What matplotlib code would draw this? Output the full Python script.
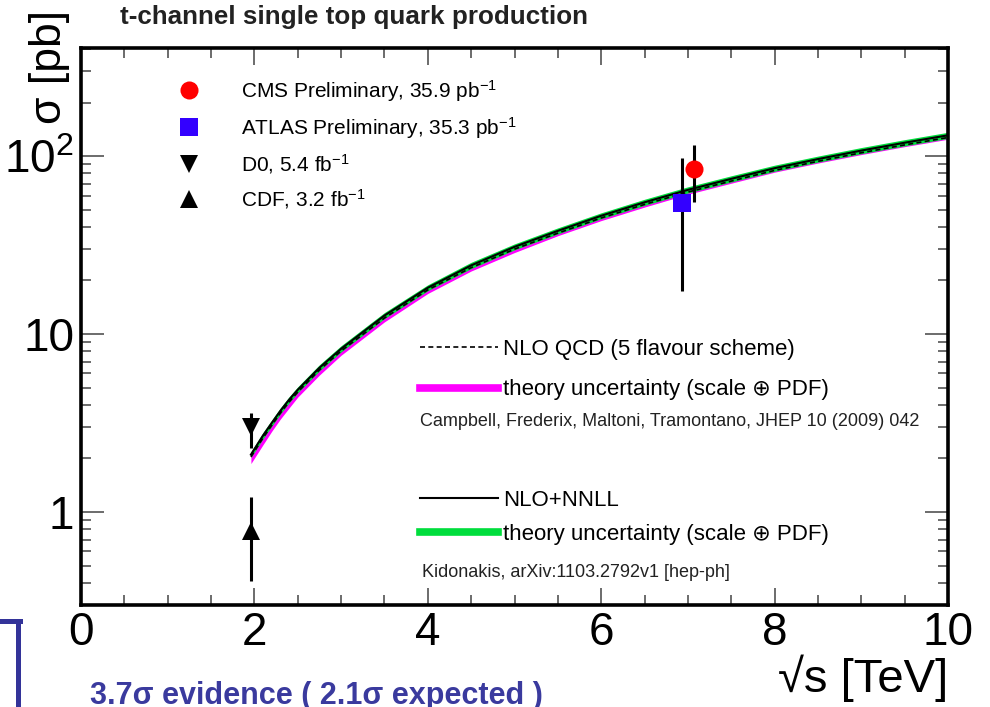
import numpy as np
import matplotlib
matplotlib.use("Agg")
import matplotlib.pyplot as plt
from matplotlib.lines import Line2D

plt.rcParams['font.family'] = ['Liberation Sans', 'DejaVu Sans']
plt.rcParams['mathtext.fontset'] = 'custom'
plt.rcParams['mathtext.rm'] = 'Liberation Sans'
plt.rcParams['mathtext.it'] = 'Liberation Sans:italic'
plt.rcParams['mathtext.bf'] = 'Liberation Sans:bold'

# theory curves, sqrt(s) in TeV, sigma in pb
sqrt_s = [1.96, 2.1, 2.2, 2.3, 2.4, 2.5, 2.75, 3.0, 3.5, 4.0, 4.5, 5.0, 5.5,
          6.0, 6.5, 7.0, 7.5, 8.0, 8.5, 9.0, 9.5, 10.0]
nnll = [2.10, 2.69, 3.16, 3.70, 4.27, 4.86, 6.46, 8.26, 12.7, 18.2, 24.3, 30.9, 38.0,
        46.2, 55.0, 64.6, 74.5, 85.5, 96.2, 107.4, 118.9, 130.9]
nnll_lo = [2.02, 2.58, 3.03, 3.55, 4.10, 4.67, 6.20, 7.93, 12.2, 17.5, 23.3, 29.7, 36.5,
           44.4, 52.8, 62.0, 71.5, 82.1, 92.4, 103.1, 114.1, 125.7]
nnll_hi = [2.18, 2.80, 3.29, 3.85, 4.44, 5.05, 6.72, 8.59, 13.2, 18.9, 25.3, 32.1, 39.5,
           48.0, 57.2, 67.2, 77.5, 88.9, 100.0, 111.7, 123.7, 136.1]
nlo = [2.04, 2.61, 3.07, 3.60, 4.15, 4.72, 6.28, 8.03, 12.3, 17.7, 23.6, 30.0, 36.9,
       44.9, 53.5, 62.8, 72.4, 83.1, 93.5, 104.4, 115.6, 127.2]
nlo_lo = [1.87, 2.39, 2.84, 3.33, 3.84, 4.42, 5.88, 7.60, 11.7, 16.9, 22.6, 28.7, 35.7,
          43.4, 51.7, 61.0, 70.4, 81.2, 91.4, 102.0, 113.0, 124.4]
nlo_hi = [2.10, 2.69, 3.16, 3.70, 4.27, 4.86, 6.46, 8.26, 12.7, 18.2, 24.3, 30.9, 38.0,
          46.2, 55.0, 64.6, 74.5, 85.5, 96.2, 107.4, 118.9, 130.9]

# measurements: x, value, error down, error up
cms = [7.07, 85.0, 30.0, 31.0]
atlas = [6.93, 54.5, 37.0, 43.5]
d0 = [1.96, 3.0, 0.7, 0.6]
cdf = [1.96, 0.78, 0.37, 0.43]

exp_labels = ["CMS Preliminary, 35.9 pb$^{-1}$", "ATLAS Preliminary, 35.3 pb$^{-1}$",
              "D0, 5.4 fb$^{-1}$", "CDF, 3.2 fb$^{-1}$"]

fig = plt.figure(figsize=(9.9, 7.07), dpi=100)
ax = fig.add_axes([0.0818, 0.1443, 0.8758, 0.7878])
ax.set_yscale('log')
ax.set_xlim(0, 10)
ax.set_ylim(0.3, 405)

ax.fill_between(sqrt_s, nlo_lo, nlo_hi, color='#ff00ff', lw=0, zorder=1)
ax.fill_between(sqrt_s, nnll_lo, nnll_hi, color='#00dd3c', lw=0, zorder=2)
ax.plot(sqrt_s, nlo, color='black', lw=1.2, ls=(0, (3, 2)), zorder=3)
ax.plot(sqrt_s, nnll, color='black', lw=1.5, zorder=4)

def meas(p, fmt, color, ms):
    return ax.errorbar([p[0]], [p[1]], yerr=[[p[2]], [p[3]]], fmt=fmt, color=color,
                       ecolor='black', elinewidth=2.2, capsize=4, capthick=2.2,
                       markersize=ms, mew=0, zorder=6)

meas(atlas, 's', '#3300ff', 13.5)
meas(cms, 'o', '#ff0000', 13)
meas(d0, 'v', 'black', 13)
meas(cdf, '^', 'black', 13)

# legends
h_exp = [Line2D([], [], ls='none', marker='o', color='#ff0000', ms=13, mew=0),
         Line2D([], [], ls='none', marker='s', color='#3300ff', ms=13, mew=0),
         Line2D([], [], ls='none', marker='v', color='black', ms=13, mew=0),
         Line2D([], [], ls='none', marker='^', color='black', ms=13, mew=0)]
leg1 = ax.legend(h_exp, exp_labels, loc='upper left', bbox_to_anchor=(0.100, 0.9466),
                 frameon=False, fontsize=15, handlelength=2.0, handletextpad=1.5,
                 labelspacing=0.54, borderpad=0, borderaxespad=0, numpoints=1)
ax.add_artist(leg1)

h_nlo = [Line2D([], [], color='black', lw=1.2, ls=(0, (3, 2))),
         Line2D([], [], color='#ff00ff', lw=5.5)]
leg2 = ax.legend(h_nlo, ["NLO QCD (5 flavour scheme)", "theory uncertainty (scale \u2295 PDF)"],
                 loc='upper left', bbox_to_anchor=(0.391, 0.478), frameon=False, fontsize=16,
                 handlelength=3.5, handletextpad=0.25, labelspacing=0.88, borderpad=0,
                 borderaxespad=0)
ax.add_artist(leg2)

h_nnll = [Line2D([], [], color='black', lw=1.5),
          Line2D([], [], color='#00dd3c', lw=5.5)]
ax.legend(h_nnll, ["NLO+NNLL", "theory uncertainty (scale \u2295 PDF)"],
          loc='upper left', bbox_to_anchor=(0.391, 0.206), frameon=False, fontsize=16,
          handlelength=3.5, handletextpad=0.25, labelspacing=0.58, borderpad=0,
          borderaxespad=0)

ax.text(0.391, 0.330, "Campbell, Frederix, Maltoni, Tramontano, JHEP 10 (2009) 042",
        transform=ax.transAxes, fontsize=13, va='center', ha='left', color='#222222')
ax.text(0.393, 0.0592, "Kidonakis, arXiv:1103.2792v1 [hep-ph]",
        transform=ax.transAxes, fontsize=13, va='center', ha='left', color='#222222')

# axes styling
for s in ax.spines.values():
    s.set_linewidth(2.6)
ax.set_xticks([0, 2, 4, 6, 8, 10])
ax.set_xticks(np.arange(0, 10.01, 0.5), minor=True)
ax.set_yticks([1, 10, 100])
ax.set_yticklabels(['1', '10', '$10^2$'])
ax.tick_params(axis='both', which='both', direction='in', top=True, right=True,
               width=1.1, color='#444444', labelsize=33)
ax.tick_params(axis='x', which='major', length=12, pad=4)
ax.tick_params(axis='x', which='minor', length=7)
ax.tick_params(axis='y', which='major', length=16.5, pad=5)
ax.tick_params(axis='y', which='minor', length=7)

fig.text(948 / 990, 1 - 678 / 707, "\u221as [TeV]", fontsize=34, ha='right', va='center')
fig.text(50 / 990, 1 - 10 / 707, "\u03c3 [pb]", fontsize=32, rotation=90, ha='center', va='top')
fig.text(120 / 990, 1 - 17 / 707, "t-channel single top quark production",
         fontsize=18.7, fontweight='bold', ha='left', va='center', color='#222222')

# slide annotation along the bottom
fig.add_artist(Line2D([0, 20 / 990], [1 - 621 / 707] * 2, color='#333399', lw=3.6))
fig.add_artist(Line2D([18 / 990] * 2, [1 - 621 / 707, 0], color='#333399', lw=3.6))
fig.text(90 / 990, 1 - 704 / 707, "3.7\u03c3 evidence ( 2.1\u03c3 expected )",
         fontsize=22, fontweight='bold', color='#3a3a9e', ha='left', va='baseline')

fig.savefig("out.png", dpi=100)
